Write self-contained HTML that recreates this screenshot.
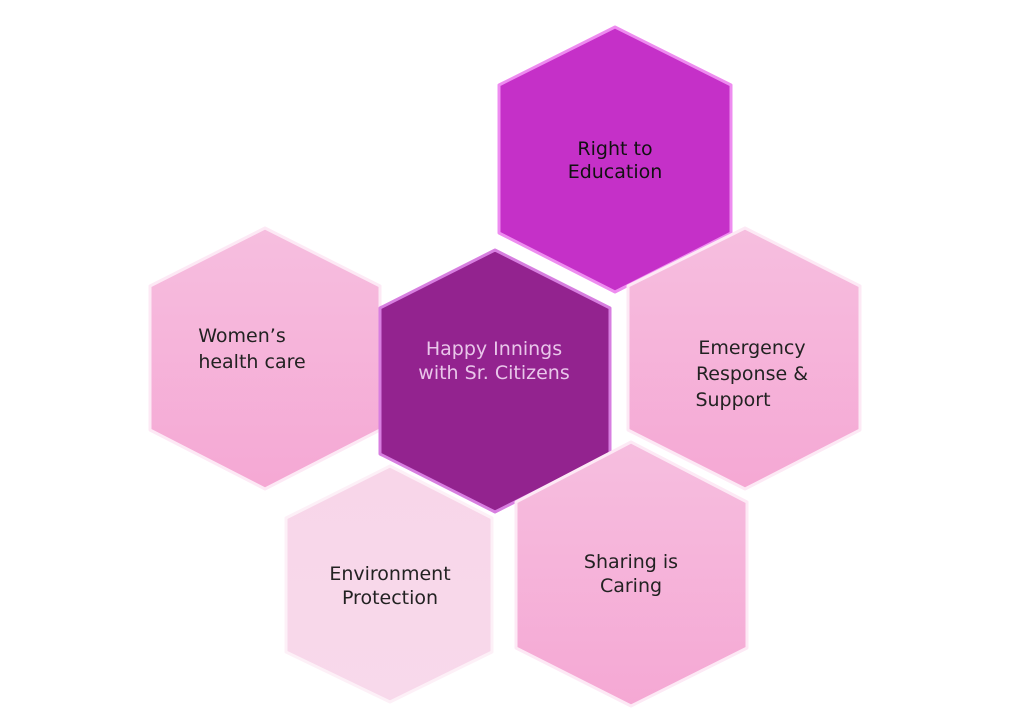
<!DOCTYPE html>
<html><head><style>
html,body{margin:0;padding:0;background:#fff;width:1024px;height:726px;overflow:hidden}
</style></head><body>
<svg width="1024" height="726" viewBox="0 0 1024 726" xmlns="http://www.w3.org/2000/svg">
<defs>
<linearGradient id="pk" x1="0" y1="0" x2="0" y2="1"><stop offset="0" stop-color="#f6bedf"/><stop offset="1" stop-color="#f5a8d4"/></linearGradient>
<linearGradient id="lp" x1="0" y1="0" x2="0" y2="1"><stop offset="0" stop-color="#f8d6e9"/><stop offset="1" stop-color="#f8d9eb"/></linearGradient>
</defs>
<g stroke-width="3" stroke-linejoin="round">
<!-- Women's -->
<polygon points="265,228 380,286 380,430 265,489 150,430 150,286" fill="url(#pk)" stroke="#fde9f5"/>
<!-- Right to Education -->
<polygon points="615,27 731,85 731,233 615,292 499,233 499,85" fill="#c530c8" stroke="#ee8cf0"/>
<!-- Emergency -->
<polygon points="745,228 860,286 860,430 745,489 628,430 628,286" fill="url(#pk)" stroke="#fde9f5"/>
<!-- Environment -->
<polygon points="390,466 492,518 492,652 390,702 286,652 286,518" fill="url(#lp)" stroke="#fdf0f7"/>
<!-- Center -->
<polygon points="495,250 610,308 610,454 495,512 380,454 380,308" fill="#93238f" stroke="#d77ee0"/>
<!-- Sharing -->
<polygon points="631,442 747,502 747,648 631,706 516,648 516,502" fill="url(#pk)" stroke="#fde9f5"/>
</g>
<g font-family="DejaVu Sans, Liberation Sans, sans-serif" font-size="19" text-anchor="middle" fill="#222">
<text x="615" y="155" font-size="19" fill="#111">Right to</text>
<text x="615" y="178" fill="#111">Education</text>
<text x="242" y="342">Women’s</text>
<text x="252" y="368">health care</text>
<text x="494" y="355" fill="#e9c6ea">Happy Innings</text>
<text x="494" y="379" fill="#e9c6ea">with Sr. Citizens</text>
<text x="752" y="354">Emergency</text>
<text x="752" y="380">Response &amp;</text>
<text x="733" y="406">Support</text>
<text x="390" y="580">Environment</text>
<text x="390" y="604">Protection</text>
<text x="631" y="568">Sharing is</text>
<text x="631" y="592">Caring</text>
</g>
</svg>
</body></html>
